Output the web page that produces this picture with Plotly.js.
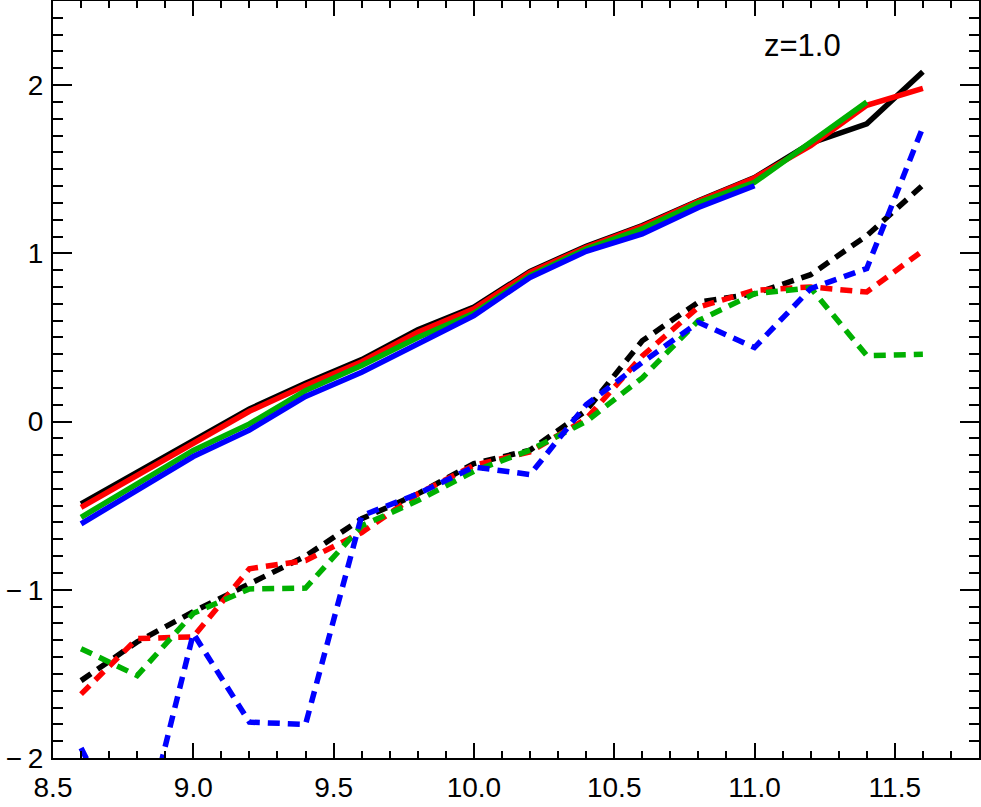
<!DOCTYPE html>
<html>
<head>
<meta charset="utf-8">
<script src="https://cdn.plot.ly/plotly-3.0.1.min.js"></script>
<style>html,body{margin:0;padding:0;background:#fff;}#plot{width:981px;height:807px;}</style>
</head>
<body>
<div id="plot"></div>
<script>
// x values (shared)
const xs = [8.6, 8.8, 9.0, 9.2, 9.4, 9.6, 9.8, 10.0, 10.2, 10.4, 10.6, 10.8, 11.0, 11.2, 11.4, 11.6];

// solid curves
const solidBlack = [-0.49, -0.30, -0.11, 0.075, 0.228, 0.368, 0.545, 0.68, 0.893, 1.042, 1.165, 1.313, 1.45, 1.655, 1.77, 2.08];
const solidRed   = [-0.51, -0.32, -0.123, 0.061, 0.214, 0.356, 0.531, 0.67, 0.887, 1.036, 1.16, 1.31, 1.448, 1.64, 1.88, 1.98];
const solidGreen = [-0.569, -0.37, -0.172, -0.014, 0.184, 0.333, 0.50, 0.643, 0.867, 1.026, 1.145, 1.30, 1.422, 1.66, 1.90];
const solidBlue  = [-0.608, -0.41, -0.208, -0.05, 0.149, 0.293, 0.465, 0.63, 0.857, 1.012, 1.115, 1.273, 1.402];

// dashed curves
const dashBlack = [-1.54, -1.31, -1.13, -0.965, -0.80, -0.578, -0.43, -0.25, -0.17, 0.065, 0.48, 0.71, 0.76, 0.873, 1.105, 1.406];
const dashRed   = [-1.62, -1.29, -1.28, -0.875, -0.826, -0.66, -0.43, -0.26, -0.18, 0.016, 0.39, 0.68, 0.78, 0.80, 0.77, 1.016];
const dashGreen = [-1.35, -1.51, -1.14, -0.995, -0.99, -0.62, -0.47, -0.295, -0.17, 0.00, 0.26, 0.60, 0.76, 0.795, 0.392, 0.40];
const dashBlue  = [-1.94, -2.6, -1.26, -1.787, -1.80, -0.56, -0.43, -0.27, -0.315, 0.10, 0.352, 0.59, 0.44, 0.79, 0.91, 1.75];

// tick labels
const xTickVals = [8.5, 9.0, 9.5, 10.0, 10.5, 11.0, 11.5];
const xTickText = ['8.5', '9.0', '9.5', '10.0', '10.5', '11.0', '11.5'];
const yTickVals = [-2, -1, 0, 1, 2];
const yTickText = ['\u2212\u20092', '\u2212\u20091', '0', '1', '2'];
const label = 'z=1.0';

const C = {black: '#000000', red: '#ff0000', green: '#00b000', blue: '#0000ff'};

function solid(y, col) {
  return {x: xs.slice(0, y.length), y: y, type: 'scatter', mode: 'lines',
          line: {color: col, width: 5.5}, hoverinfo: 'skip'};
}
function dashed(y, col) {
  return {x: xs.slice(0, y.length), y: y, type: 'scatter', mode: 'lines',
          line: {color: col, width: 5.5, dash: '12px,8px'}, hoverinfo: 'skip'};
}

const traces = [
  solid(solidBlack, C.black), solid(solidRed, C.red), solid(solidGreen, C.green), solid(solidBlue, C.blue),
  dashed(dashBlack, C.black), dashed(dashRed, C.red), dashed(dashGreen, C.green), dashed(dashBlue, C.blue)
];

const tickFont = {family: 'Liberation Sans, Arial, sans-serif', size: 28, color: '#000'};

const layout = {
  width: 981, height: 807,
  margin: {l: 53, r: 2, t: 1, b: 49},
  paper_bgcolor: '#fff', plot_bgcolor: '#fff',
  showlegend: false,
  xaxis: {
    range: [8.5, 11.8], showgrid: false, zeroline: false,
    showline: true, linecolor: '#000', linewidth: 2, mirror: 'allticks',
    ticks: 'inside', ticklen: 15, tickwidth: 2, tickcolor: '#000',
    tickvals: xTickVals, ticktext: xTickText, tickfont: tickFont,
    ticklabelstandoff: 3,
    minor: {dtick: 0.1, tick0: 8.5, ticks: 'inside', ticklen: 7, tickwidth: 2, tickcolor: '#000', showgrid: false}
  },
  yaxis: {
    range: [-2, 2.5], showgrid: false, zeroline: false,
    showline: true, linecolor: '#000', linewidth: 2, mirror: 'allticks',
    ticks: 'inside', ticklen: 19, tickwidth: 2, tickcolor: '#000',
    tickvals: yTickVals, ticktext: yTickText, tickfont: tickFont,
    ticklabelstandoff: 2,
    minor: {dtick: 0.1, tick0: 0, ticks: 'inside', ticklen: 10, tickwidth: 2, tickcolor: '#000', showgrid: false}
  },
  annotations: [{
    x: 11.17, y: 2.234, xref: 'x', yref: 'y', text: label, showarrow: false,
    font: {family: 'Liberation Sans, Arial, sans-serif', size: 31, color: '#000'},
    xanchor: 'center', yanchor: 'middle'
  }]
};

Plotly.newPlot('plot', traces, layout, {displayModeBar: false, staticPlot: true});
</script>
</body>
</html>
